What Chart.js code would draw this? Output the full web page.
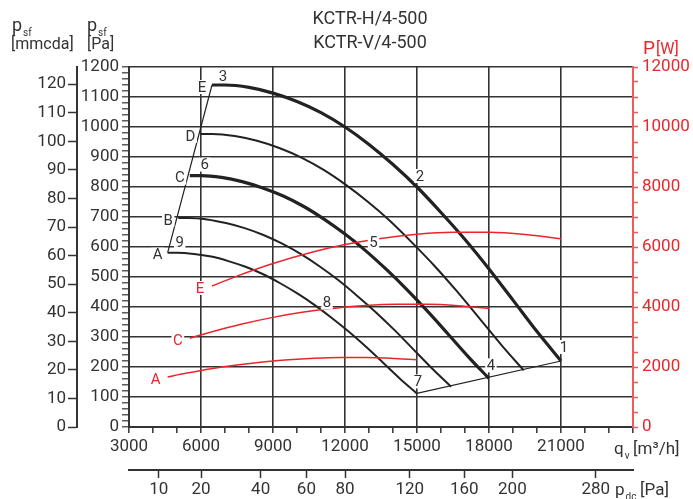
<!DOCTYPE html>
<html>
<head>
<meta charset="utf-8">
<script src="https://cdn.jsdelivr.net/npm/chart.js@4.4.0/dist/chart.umd.min.js"></script>
<style>
  html, body { margin: 0; padding: 0; background: #fff; }
</style>
</head>
<body>
<canvas id="fanChart" width="693" height="499"></canvas>
<script>
// fan curves: flow [m3/h] and static pressure [Pa], one pair per speed A..E
const flowE = [6458, 7000, 8000, 9000, 10000, 11000, 12000, 13000, 14000, 15000, 16000, 17000, 18000, 19000, 20000, 21000];
const pressE = [1140, 1140, 1132, 1113, 1085, 1048, 1000, 942, 875, 800, 715, 625, 527, 423, 318, 220];
const flowD = [5980, 6482, 7408, 8334, 9260, 10186, 11112, 12038, 12964, 13890, 14816, 15742, 16668, 17594, 18520, 19446];
const pressD = [977, 977, 970, 954, 930, 898, 857, 807, 750, 686, 613, 536, 452, 363, 273, 189];
const flowC = [5534, 5999, 6856, 7713, 8570, 9427, 10284, 11141, 11998, 12855, 13712, 14569, 15426, 16283, 17140, 17997];
const pressC = [838, 838, 832, 818, 797, 770, 735, 692, 643, 588, 526, 459, 387, 311, 234, 162];
const flowB = [5050, 5474, 6256, 7038, 7820, 8602, 9384, 10166, 10948, 11730, 12512, 13294, 14076, 14858, 15640, 16422];
const pressB = [697, 697, 692, 680, 663, 640, 611, 576, 535, 489, 437, 382, 322, 258, 194, 134];
const flowA = [4611, 4998, 5712, 6426, 7140, 7854, 8568, 9282, 9996, 10710, 11424, 12138, 12852, 13566, 14280, 14994];
const pressA = [581, 581, 577, 568, 553, 534, 510, 480, 446, 408, 365, 319, 269, 216, 162, 112];

// absorbed power [W] for speeds E, C, A
const powFlowE = [6458, 7500, 9000, 10500, 12000, 13500, 15000, 16500, 18000, 19500, 21000];
const powE = [4700, 5030, 5450, 5800, 6080, 6285, 6425, 6490, 6490, 6420, 6275];
const powFlowC = [5534, 6428, 7713, 8999, 10284, 11570, 12855, 14141, 15426, 16712, 17997];
const powC = [2961, 3169, 3434, 3654, 3830, 3960, 4050, 4088, 4088, 4045, 3953];
const powFlowA = [4611, 5356, 6426, 7497, 8568, 9639, 10710, 11781, 12852, 13923, 14994];
const powA = [1670, 1790, 1945, 2070, 2170, 2245, 2295, 2320, 2320, 2295, 2240];

// numbered operating points
const markTexts = ['1', '2', '3', '4', '5', '6', '7', '8', '9'];
const markFlow = [21000, 15000, 6458, 17997, 12855, 5534, 14994, 10710, 4611];
const markPress = [220, 800, 1140, 162, 588, 838, 112, 408, 581];
const markShift = [[3, -14], [3, -11], [11, -9], [2, -13], [8, -8], [15, -11], [1, -12], [13, -2], [12, -10]];

const speedNames = ['A', 'B', 'C', 'D', 'E'];
const powerNames = ['A', 'C', 'E'];

// dynamic pressure scale [Pa]
const dynLabels = [10, 20, 40, 60, 80, 120, 160, 200, 280];

const INK = '#333';
const RED = '#e8262b';
const RED_AXIS = '#f05a5a';
const FONT = 'Roboto, "Liberation Sans", sans-serif';

function toPoints(flows, values) {
    return flows.map((q, i) => ({ x: q, y: values[i] }));
}

function curve(label, flows, values, axis, color, width) {
    return {
        label: label,
        data: toPoints(flows, values),
        yAxisID: axis,
        borderColor: color,
        borderWidth: width,
        pointRadius: 0,
        fill: false,
        cubicInterpolationMode: 'monotone',
    };
}

function tag(ctx, text, x, y, color) {
    ctx.font = '15px ' + FONT;
    const w = ctx.measureText(text).width;
    ctx.fillStyle = '#fff';
    ctx.fillRect(x - w / 2 - 1.5, y - 7, w + 3, 14);
    ctx.fillStyle = color;
    ctx.textAlign = 'center';
    ctx.textBaseline = 'middle';
    ctx.fillText(text, x, y + 1);
}

function subText(ctx, x, y, main, sub, size, color) {
    ctx.fillStyle = color;
    ctx.textAlign = 'left';
    ctx.textBaseline = 'alphabetic';
    ctx.font = size + 'px ' + FONT;
    ctx.fillText(main, x, y);
    const w = ctx.measureText(main).width;
    ctx.font = '10px ' + FONT;
    ctx.fillText(sub, x + w + 1, y + 5);
}

const annotate = {
    id: 'annotate',
    afterDatasetsDraw(chart) {
        const ctx = chart.ctx;
        const sx = chart.scales.x, sy = chart.scales.y, sw = chart.scales.yW;
        ctx.save();
        markTexts.forEach((t, i) => {
            tag(ctx, t, sx.getPixelForValue(markFlow[i]) + markShift[i][0],
                sy.getPixelForValue(markPress[i]) + markShift[i][1], INK);
        });
        const starts = [[flowA, pressA], [flowB, pressB], [flowC, pressC], [flowD, pressD], [flowE, pressE]];
        speedNames.forEach((n, i) => {
            tag(ctx, n, sx.getPixelForValue(starts[i][0][0]) - 10, sy.getPixelForValue(starts[i][1][0]) + 2, INK);
        });
        const pstarts = [[powFlowA, powA], [powFlowC, powC], [powFlowE, powE]];
        powerNames.forEach((n, i) => {
            tag(ctx, n, sx.getPixelForValue(pstarts[i][0][0]) - 12, sw.getPixelForValue(pstarts[i][1][0]) + 2, RED);
        });
        ctx.restore();
    },
    afterDraw(chart) {
        const ctx = chart.ctx;
        ctx.save();
        ctx.fillStyle = INK;
        ctx.textAlign = 'center';
        ctx.font = '18px ' + FONT;
        ctx.fillText('KCTR-H/4-500', 370, 24);
        ctx.fillText('KCTR-V/4-500', 370, 48);

        subText(ctx, 12, 31, 'p', 'sf', 18, INK);
        subText(ctx, 87, 31, 'p', 'sf', 18, INK);
        ctx.font = '16px ' + FONT;
        ctx.textAlign = 'left';
        ctx.fillText('[mmcda]', 11, 49);
        ctx.fillText('[Pa]', 87, 49);

        ctx.fillStyle = RED;
        ctx.font = '19px ' + FONT;
        ctx.fillText('P', 643, 54);
        ctx.font = '16px ' + FONT;
        ctx.fillText('[W]', 656, 54);

        subText(ctx, 614, 454, 'q', 'v', 17, INK);
        ctx.font = '17px ' + FONT;
        ctx.fillText('[m\u00b3/h]', 633, 454);
        subText(ctx, 615, 495, 'p', 'dc', 17, INK);
        ctx.font = '17px ' + FONT;
        ctx.fillText('[Pa]', 640, 495);
        ctx.restore();
    },
};

const ctx = document.getElementById('fanChart').getContext('2d');

const fanChart = new Chart(ctx, {
    type: 'line',
    data: {
        datasets: [
            curve('P A', powFlowA, powA, 'yW', RED, 1.5),
            curve('P C', powFlowC, powC, 'yW', RED, 1.5),
            curve('P E', powFlowE, powE, 'yW', RED, 1.5),
            curve('A', flowA, pressA, 'y', '#222', 2),
            curve('B', flowB, pressB, 'y', '#222', 2),
            curve('C', flowC, pressC, 'y', '#222', 3.2),
            curve('D', flowD, pressD, 'y', '#222', 2),
            curve('E', flowE, pressE, 'y', '#222', 3.2),
            {
                label: 'start',
                data: [{ x: flowA[0], y: pressA[0] }, { x: flowE[0], y: pressE[0] }],
                yAxisID: 'y', borderColor: '#222', borderWidth: 1.2, pointRadius: 0, tension: 0,
            },
            {
                label: 'end',
                data: [{ x: flowA[flowA.length - 1], y: pressA[pressA.length - 1] },
                       { x: flowE[flowE.length - 1], y: pressE[pressE.length - 1] }],
                yAxisID: 'y', borderColor: '#222', borderWidth: 1.2, pointRadius: 0, tension: 0,
            },
        ],
    },
    options: {
        responsive: false,
        animation: false,
        devicePixelRatio: 1,
        layout: { padding: { top: 67, left: 0, right: 0, bottom: 0 } },
        plugins: { legend: { display: false }, tooltip: { enabled: false } },
        scales: {
            x: {
                type: 'linear', position: 'bottom', weight: 0, min: 3000, max: 24000,
                afterFit: (s) => { s.height = 43; },
                ticks: {
                    stepSize: 1000, autoSkip: false, maxRotation: 0, minRotation: 0, padding: 4,
                    color: INK, font: { family: FONT, size: 17 },
                    callback: (v) => (v % 3000 === 0 && v < 24000) ? v : '',
                },
                grid: {
                    color: (c) => (c.tick && c.tick.value % 3000 === 0 && c.tick.value > 3000 && c.tick.value < 24000) ? INK : 'rgba(0,0,0,0)',
                    lineWidth: 1.6, tickColor: INK, tickWidth: 1.5, tickLength: 6,
                },
                border: { color: INK, width: 2 },
            },
            x2: {
                type: 'linear', position: 'bottom', weight: 1, min: 3000, max: 24000,
                afterFit: (s) => { s.height = 29; },
                afterBuildTicks: (s) => { s.ticks = dynLabels.map((p) => ({ value: 6000 * Math.sqrt(p / 20) })); },
                ticks: {
                    autoSkip: false, maxRotation: 0, minRotation: 0, padding: 2,
                    color: INK, font: { family: FONT, size: 17 },
                    callback: (v, i) => dynLabels[i],
                },
                grid: { drawOnChartArea: false, tickColor: INK, tickWidth: 1.5, tickLength: 8 },
                border: { color: INK, width: 2 },
            },
            y: {
                position: 'left', weight: 0, min: 0, max: 1200,
                afterFit: (s) => { s.width = 52; },
                ticks: {
                    stepSize: 20, autoSkip: false, padding: 3,
                    color: INK, font: { family: FONT, size: 17 },
                    callback: (v) => v % 100 === 0 ? v : '',
                },
                grid: {
                    color: (c) => (c.tick && c.tick.value % 100 === 0) ? INK : 'rgba(0,0,0,0)',
                    lineWidth: 1.6, tickColor: INK, tickWidth: 1.2, tickLength: 7,
                },
                border: { color: INK, width: 2 },
            },
            yMM: {
                position: 'left', weight: 1, min: 0, max: 126,
                afterFit: (s) => { s.width = 77; },
                ticks: {
                    stepSize: 10, autoSkip: false, includeBounds: false, padding: 2,
                    color: INK, font: { family: FONT, size: 17 },
                    callback: (v) => v,
                },
                grid: { drawOnChartArea: false, tickColor: INK, tickWidth: 1.5, tickLength: 9 },
                border: { color: INK, width: 2 },
            },
            yW: {
                position: 'right', min: 0, max: 12000,
                afterFit: (s) => { s.width = 60; },
                ticks: {
                    stepSize: 500, autoSkip: false, padding: 4,
                    color: RED, font: { family: FONT, size: 17 },
                    callback: (v) => v % 2000 === 0 ? v : '',
                },
                grid: { drawOnChartArea: false, tickColor: RED_AXIS, tickWidth: 1.5, tickLength: 5 },
                border: { color: RED_AXIS, width: 2 },
            },
        },
    },
    plugins: [annotate],
});
</script>
</body>
</html>
